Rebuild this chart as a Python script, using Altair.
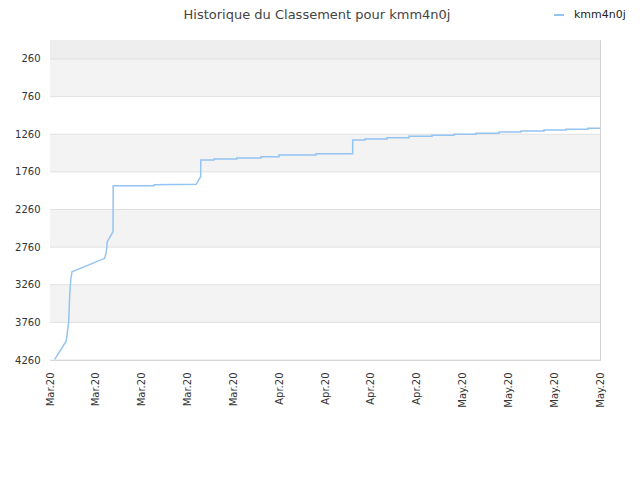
import altair as alt
import pandas as pd

title_text = "Historique du Classement pour kmm4n0j"

# Rank history (time, rank)
times = [
    "2020-03-02T17:15", "2020-03-04T11:45", "2020-03-04T20:30", "2020-03-05T00:15",
    "2020-03-05T04:00", "2020-03-05T08:40", "2020-03-10T08:30", "2020-03-10T14:20",
    "2020-03-10T18:00", "2020-03-11T15:00", "2020-03-11T15:40", "2020-03-17T21:10",
    "2020-03-17T22:20", "2020-03-24T07:10", "2020-03-25T00:20", "2020-03-25T00:45",
    "2020-03-27T01:10", "2020-03-27T01:10", "2020-03-30T12:20", "2020-03-30T12:20",
    "2020-04-03T05:25", "2020-04-03T05:25", "2020-04-05T23:25", "2020-04-05T23:25",
    "2020-04-11T15:00", "2020-04-11T15:00", "2020-04-17T05:30", "2020-04-17T05:30",
    "2020-04-19T02:40", "2020-04-19T02:40", "2020-04-22T11:15", "2020-04-22T11:15",
    "2020-04-25T19:55", "2020-04-25T19:55", "2020-04-29T08:10", "2020-04-29T08:10",
    "2020-05-02T16:50", "2020-05-02T16:50", "2020-05-06T01:30", "2020-05-06T01:30",
    "2020-05-09T13:50", "2020-05-09T13:50", "2020-05-12T22:25", "2020-05-12T22:25",
    "2020-05-16T10:45", "2020-05-16T10:45", "2020-05-19T19:25", "2020-05-19T19:25",
    "2020-05-23T04:00", "2020-05-23T04:00", "2020-05-25T00:00",
]
ranks = [
    4251, 4007, 3751, 3396,
    3197, 3087, 2909, 2821,
    2688, 2555, 1944, 1943,
    1930, 1925, 1824, 1602,
    1602, 1589, 1589, 1576,
    1576, 1558, 1558, 1536,
    1536, 1518, 1518, 1336,
    1336, 1323, 1323, 1306,
    1306, 1287, 1287, 1274,
    1274, 1261, 1261, 1247,
    1247, 1230, 1230, 1217,
    1217, 1204, 1204, 1194,
    1194, 1181, 1181,
]
series_name = "kmm4n0j"

# Axis ticks
x_tick_days = [(2020, 3, 2), (2020, 3, 9), (2020, 3, 16), (2020, 3, 23), (2020, 3, 30),
               (2020, 4, 6), (2020, 4, 13), (2020, 4, 20), (2020, 4, 27),
               (2020, 5, 4), (2020, 5, 11), (2020, 5, 18), (2020, 5, 25)]
y_ticks = [260, 760, 1260, 1760, 2260, 2760, 3260, 3760, 4260]

# Background bands
band_lo = [8, 260, 760, 1260, 1760, 2260, 2760, 3260, 3760]
band_hi = [260, 760, 1260, 1760, 2260, 2760, 3260, 3760, 4260]
band_fill = ["#eeeeee", "#f3f3f3", "#ffffff", "#f3f3f3", "#ffffff",
             "#f3f3f3", "#ffffff", "#f3f3f3", "#ffffff"]

df = pd.DataFrame({"t": times, "rank": ranks, "i": list(range(len(times))),
                   "s": [series_name] * len(times)})
bands = pd.DataFrame({"lo": band_lo, "hi": band_hi, "fill": band_fill})
grid = pd.DataFrame({"v": y_ticks})

x_vals = [alt.DateTime(year=y, month=m, date=d) for (y, m, d) in x_tick_days]
y_scale = alt.Scale(domain=[8, 4260], reverse=True, nice=False, zero=False)
x_scale = alt.Scale(domain=[x_vals[0], x_vals[-1]])

y_axis = alt.Axis(values=y_ticks, format="d", title=None, grid=False,
                  domain=False, ticks=False, labelPadding=10,
                  labelFontSize=10, labelColor="#333333", labelFont="DejaVu Sans",
                  labelOverlap=False, labelBound=False, labelFlush=False)

band_layer = alt.Chart(bands).mark_rect().encode(
    y=alt.Y("lo:Q", scale=y_scale, axis=y_axis),
    y2="hi:Q",
    color=alt.Color("fill:N", scale=None),
)

grid_layer = alt.Chart(grid).mark_rule(color="#e0e0e0", strokeWidth=1).encode(
    y=alt.Y("v:Q", scale=y_scale, axis=y_axis),
)

line_layer = alt.Chart(df).mark_line(strokeWidth=1.5, clip=True).encode(
    x=alt.X("t:T", scale=x_scale,
            axis=alt.Axis(values=x_vals, format="%b.%y", labelAngle=-90, title=None,
                          grid=False, domain=False, ticks=False, labelPadding=12,
                          labelFontSize=10, labelColor="#333333", labelFont="DejaVu Sans",
                          labelBaseline="middle", labelAlign="right",
                          labelOverlap=False, labelFlush=False)),
    y=alt.Y("rank:Q", scale=y_scale, axis=y_axis),
    order="i:Q",
    color=alt.Color("s:N", scale=alt.Scale(domain=[series_name], range=["#94c4f2"]),
                    legend=alt.Legend(orient="none", legendX=503, legendY=-31, title=None,
                                      symbolType="stroke", symbolStrokeWidth=2,
                                      symbolSize=100, labelFontSize=11, labelOffset=9,
                                      labelFont="DejaVu Sans", labelColor="#222222")),
)

title_layer = alt.Chart(pd.DataFrame({"label": [title_text]})).mark_text(
    font="DejaVu Sans", fontSize=13, color="#444444", align="center",
    baseline="alphabetic",
).encode(x=alt.value(267), y=alt.value(-21), text="label:N")

chart = alt.layer(band_layer, grid_layer, line_layer, title_layer).properties(
    width=550, height=320,
    autosize=alt.AutoSizeParams(type="none"),
    padding={"left": 42, "top": 32, "right": 32, "bottom": 112},
).configure_view(stroke="#d0d0d0", strokeWidth=1).configure_axisY(labelOverlap=False)

chart.save("out.html", embed_options={"renderer": "svg", "actions": False})
